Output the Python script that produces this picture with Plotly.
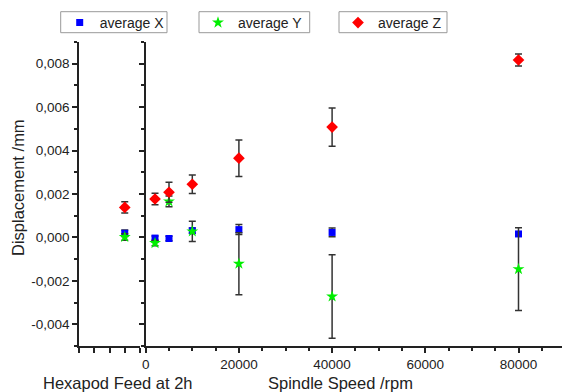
import plotly.graph_objects as go

# ---- data ----
speeds = [2000, 5000, 10000, 20000, 40000, 80000]
avg_x = [-0.00003, -0.00005, 0.00031, 0.00036, 0.00023, 0.00016]
err_x = [0.00010, 0.00010, 0.00012, 0.00023, 0.00020, 0.00010]
avg_y = [-0.00026, 0.00166, 0.00028, -0.00121, -0.00272, -0.00146]
err_y = [0.00012, 0.00025, 0.00047, 0.00143, 0.00192, 0.00190]
avg_z = [0.00177, 0.00208, 0.00245, 0.00365, 0.00508, 0.00817]
err_z = [0.00027, 0.00046, 0.00043, 0.00084, 0.00088, 0.00028]

hexapod_pos = [3]
hex_x = [0.00019]
hex_x_err = [0.00015]
hex_y = [0.00002]
hex_y_err = [0.00015]
hex_z = [0.00138]
hex_z_err = [0.00026]

y_tickvals = [-0.004, -0.002, 0.0, 0.002, 0.004, 0.006, 0.008]
y_ticktext = ["-0,004", "-0,002", "0,000", "0,002", "0,004", "0,006", "0,008"]
x_tickvals = [0, 20000, 40000, 60000, 80000]
x_ticktext = ["0", "20000", "40000", "60000", "80000"]

series_names = ["average X", "average Y", "average Z"]
colors = ["#0000ff", "#00ee00", "#ff0000"]
symbols = ["square", "star", "diamond"]
sizes = [7, 9, 9]

FONT = "Liberation Sans, Arial, sans-serif"
TXT = "#222222"
ERRC = "#333333"

fig = go.Figure()

main_sets = [(avg_x, err_x), (avg_y, err_y), (avg_z, err_z)]
hex_sets = [(hex_x, hex_x_err), (hex_y, hex_y_err), (hex_z, hex_z_err)]
legends = ["legend", "legend2", "legend3"]

for i in range(3):
    vals, errs = hex_sets[i]
    fig.add_trace(go.Scatter(
        x=hexapod_pos, y=vals, mode="markers", xaxis="x", yaxis="y",
        showlegend=False,
        marker=dict(color=colors[i], symbol=symbols[i], size=sizes[i], line=dict(width=0)),
        error_y=dict(type="data", array=errs, color=ERRC, thickness=1.5, width=3.5),
        cliponaxis=False,
    ))
for i in range(3):
    vals, errs = main_sets[i]
    fig.add_trace(go.Scatter(
        x=speeds, y=vals, mode="markers", xaxis="x2", yaxis="y2",
        name=series_names[i], legend=legends[i],
        marker=dict(color=colors[i], symbol=symbols[i], size=sizes[i], line=dict(width=0)),
        error_y=dict(type="data", array=errs, color=ERRC, thickness=1.5, width=3.5),
        cliponaxis=False,
    ))

W, H = 562, 392
ml, mr, mt, mb = 79, 0, 42, 46
pw = W - ml - mr
ph = H - mt - mb

axis_common = dict(showline=True, linecolor=TXT, linewidth=1.5, showgrid=False,
                   zeroline=False, ticks="outside", tickcolor=TXT, tickwidth=1.5,
                   ticklen=5, tickfont=dict(family=FONT, size=13.5, color=TXT))

yr = [-0.005, 0.009]
x2_end = (W - 145.7) / 93.2 * 20000

fig.update_layout(
    width=W, height=H,
    margin=dict(l=ml, r=mr, t=mt, b=mb, autoexpand=False),
    paper_bgcolor="white", plot_bgcolor="white",
    font=dict(family=FONT, color=TXT),
    xaxis=dict(domain=[0, (140 - 79) / pw], range=[0, 4], tickvals=[0, 1, 2, 3, 4],
               showticklabels=False, anchor="y", **axis_common),
    xaxis2=dict(domain=[(145.7 - 79) / pw, 1], range=[0, x2_end], anchor="y2",
                tickvals=x_tickvals, ticktext=x_ticktext,
                minor=dict(dtick=5000, ticks="outside", ticklen=3, tickcolor=TXT, tickwidth=1.5),
                **axis_common),
    yaxis=dict(range=yr, anchor="x", tickvals=y_tickvals, ticktext=y_ticktext,
               minor=dict(dtick=0.001, tick0=0, ticks="outside", ticklen=3, tickcolor=TXT, tickwidth=1.5),
               **axis_common),
    yaxis2=dict(range=yr, anchor="x2", matches="y", tickvals=y_tickvals, showticklabels=False,
                minor=dict(dtick=0.001, tick0=0, ticks="outside", ticklen=3, tickcolor=TXT, tickwidth=1.5),
                **axis_common),
)

def px_x(px):
    return (px - ml) / pw

def px_y(py):
    return (H - mb - py) / ph

# legend boxes (reference pixel extents)
box_left = [60.7, 199.0, 339.0]
box_right = [167.0, 309.7, 447.0]
box_top, box_bot = 11.7, 32.7
for i in range(3):
    fig.add_shape(type="rect", xref="paper", yref="paper",
                  x0=px_x(box_left[i]), x1=px_x(box_right[i]),
                  y0=px_y(box_bot), y1=px_y(box_top),
                  line=dict(color="#999999", width=1), fillcolor="white", layer="below")

leg_common = dict(xref="container", yref="container", xanchor="left", yanchor="middle",
                  bgcolor="rgba(0,0,0,0)", borderwidth=0,
                  font=dict(family=FONT, size=14, color=TXT), orientation="h")
legy = 1 - (box_top + box_bot + 1.5) / 2 / H
fig.update_layout(
    legend=dict(x=(box_left[0] - 1) / W, y=legy, **leg_common),
    legend2=dict(x=(box_left[1] - 1) / W, y=legy, **leg_common),
    legend3=dict(x=(box_left[2] - 1) / W, y=legy, **leg_common),
)

ann_font = dict(family=FONT, size=16.5, color=TXT)
fig.add_annotation(text="Hexapod Feed at 2h", xref="paper", yref="paper",
                   x=px_x(118.3), y=px_y(383), xanchor="center", yanchor="middle",
                   showarrow=False, font=ann_font)
fig.add_annotation(text="Spindle Speed /rpm", xref="paper", yref="paper",
                   x=px_x(340), y=px_y(383), xanchor="center", yanchor="middle",
                   showarrow=False, font=ann_font)
fig.add_annotation(text="Displacement /mm", xref="paper", yref="paper",
                   x=px_x(18), y=px_y(188), xanchor="center", yanchor="middle",
                   textangle=-90, showarrow=False, font=ann_font)

fig.write_html("out.html", config={"displayModeBar": False},
               post_script="document.body.style.margin='0';document.body.style.overflow='hidden';")
